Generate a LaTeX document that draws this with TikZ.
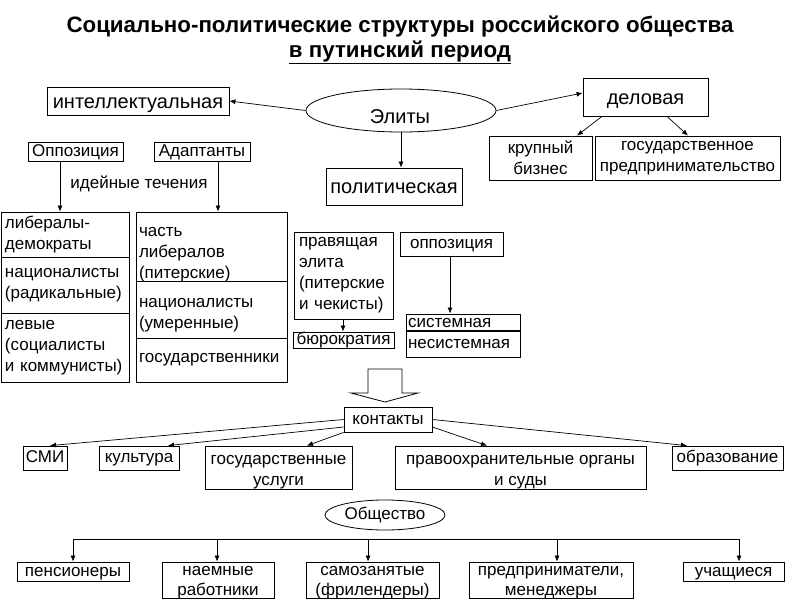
\documentclass[tikz,border=0pt]{standalone}
\usepackage{fontspec}
\setmainfont{Liberation Sans}
\usetikzlibrary{arrows.meta,shapes.geometric,calc}
\begin{document}
\begin{tikzpicture}[x=1pt,y=-1pt,
 box/.style={draw,line width=0.8pt,inner sep=0pt,font=\fontsize{17}{21}\selectfont,align=center},
 big/.style={box,font=\fontsize{20}{24}\selectfont,text height=16.5pt,text depth=2pt},
 lbox/.style={box,align=left},
 sbox/.style={box,text height=12.5pt,text depth=3.5pt},
 txt/.style={inner sep=0pt,font=\fontsize{17}{21}\selectfont,align=center},
 ell/.style={draw,ellipse,line width=0.8pt,inner sep=0pt},
 arr/.style={line width=0.7pt,-{Latex[length=6pt,width=5pt]}},
 ln/.style={line width=0.7pt},
 ttl/.style={font=\fontsize{22.3}{26}\selectfont\bfseries,anchor=base,inner sep=0pt}]
\useasboundingbox (0,0) rectangle (800,600);
% title
\node[ttl] (t1) at (400,32) {Социально-политические структуры российского общества};
\node[ttl] (t2) at (400,57) {\underline{в путинский период}};
% elites
\node[big,minimum width=182pt,minimum height=28pt] (intel) at (138,101) {интеллектуальная};
\node[ell,minimum width=190pt,minimum height=43pt] (elity) at (401,110.5) {};
\node[txt,font=\fontsize{20}{24}\selectfont] (elityT) at (400,117) {Элиты};
\node[big,minimum width=125pt,minimum height=38pt] (delov) at (645.5,97) {деловая};
\node[big,minimum width=136pt,minimum height=37pt] (polit) at (394,186.5) {политическая};
\node[box,minimum width=103pt,minimum height=44pt] (krup) at (540.5,158) {крупный\\бизнес};
\node[box,minimum width=185pt,minimum height=44pt] (gospr) at (687.5,158) {государственное\\предпринимательство};
\draw[arr] (elity.west) -- (intel.east);
\draw[arr] (elity.east) -- ($(delov.west)+(0,-4)$);
\draw[arr] (elity.south) -- (elity.south |- polit.north);
\draw[arr] (delov.south -| 602,0) -- (krup.north -| 577,0);
\draw[arr] (delov.south -| 667,0) -- (gospr.north -| 688,0);
% ideological currents
\node[sbox,minimum width=95pt,minimum height=19pt] (opp) at (75.5,151.5) {Оппозиция};
\node[sbox,minimum width=96pt,minimum height=19pt] (adap) at (202,151.5) {Адаптанты};
\node[txt] (ideas) at (139,184) {идейные течения};
% left column
\node[lbox,text width=120pt,inner xsep=4pt,minimum height=45pt] (lib) at (65,234.5) {либералы-\\демократы};
\node[lbox,text width=120pt,inner xsep=4pt,minimum height=56pt] (nat) at (65,285) {националисты\\(радикальные)};
\node[lbox,text width=120pt,inner xsep=4pt,minimum height=69pt] (lev) at (65,347.5) {левые\\(социалисты\\и коммунисты)};
% middle column
\node[box,minimum width=151pt,minimum height=69pt] (chast) at (211.5,246.5) {};
\node[txt,align=left,text width=145pt] (chastT) at (211.5,254.5) {часть\\либералов\\(питерские)};
\node[box,minimum width=151pt,minimum height=57pt] (natum) at (211.5,309.5) {};
\node[txt,align=left,text width=145pt] (natumT) at (211.5,315.5) {националисты\\(умеренные)};
\node[lbox,text width=145pt,inner xsep=3pt,minimum height=44pt] (gosud) at (211.5,360) {государственники};
\draw[arr] (opp.south -| 60,0) -- (lib.north -| 60,0);
\draw[arr] (adap.south -| 218,0) -- (chast.north -| 218,0);
% political
\node[lbox,text width=89pt,inner xsep=5pt,minimum height=87pt] (prav) at (343.5,275.5) {правящая\\элита\\(питерские\\и чекисты)};
\node[sbox,minimum width=101pt,minimum height=16pt] (byur) at (343.5,340) {бюрократия};
\node[sbox,minimum width=103pt,minimum height=24pt] (opp2) at (451.5,244) {оппозиция};
\node[lbox,text width=110pt,inner xsep=2pt,text height=12.5pt,text depth=3.5pt,minimum height=17pt] (sist) at (463,322.5) {системная};
\node[lbox,text width=110pt,inner xsep=2pt,text height=12.5pt,text depth=3.5pt,minimum height=26pt] (nesist) at (463,344) {несистемная};
\draw[line width=2pt] (sist.south west) -- (sist.south east);
\draw[arr] (prav.south -| 343,0) -- (byur.north -| 343,0);
\draw[arr] (opp2.south -| 450,0) -- (sist.north -| 450,0);
% hollow arrow
\draw[line width=0.8pt,fill=white] (368,369) -- (402,369) -- (402,393) -- (418,393) -- (385,402) -- (351,393) -- (368,393) -- cycle;
% contacts
\node[sbox,minimum width=88pt,minimum height=25pt] (kont) at (388,419.5) {контакты};
\node[sbox,minimum width=44pt,minimum height=24pt] (smi) at (45,458) {СМИ};
\node[sbox,minimum width=80pt,minimum height=24pt] (kult) at (139,458) {культура};
\node[box,minimum width=147pt,minimum height=43pt] (gosu) at (278.5,467.5) {};
\node[txt] (gosuT) at (278.5,472.5) {государственные\\услуги};
\node[box,minimum width=251pt,minimum height=43pt] (pravo) at (520.5,467.5) {};
\node[txt] (pravoT) at (520.5,472.5) {правоохранительные органы\\и суды};
\node[sbox,minimum width=111pt,minimum height=24pt] (obr) at (727.5,458) {образование};
\draw[arr] (kont.west) -- (smi.north -| 50,0);
\draw[arr] (kont.west |- 0,427) -- (kult.north -| 168,0);
\draw[arr] (kont.south west) -- (gosu.north -| 307,0);
\draw[arr] (kont.east |- 0,427) -- (pravo.north -| 487,0);
\draw[arr] (kont.east) -- (obr.north -| 687,0);
% society
\node[ell,minimum width=120pt,minimum height=30pt,font=\fontsize{17}{21}\selectfont] (obsh) at (385,515) {Общество};
\node[sbox,minimum width=112pt,minimum height=19pt] (pens) at (73,571.5) {пенсионеры};
\node[box,minimum width=112pt,minimum height=36pt] (naem) at (218,580) {};
\node[txt,font=\fontsize{17}{20}\selectfont] (naemT) at (218,583) {наемные\\работники};
\node[box,minimum width=133pt,minimum height=36pt] (samoz) at (372.5,580) {};
\node[txt,font=\fontsize{17}{20}\selectfont] (samozT) at (372.5,583) {самозанятые\\(фрилендеры)};
\node[box,minimum width=164pt,minimum height=36pt] (predp) at (551,580) {};
\node[txt,font=\fontsize{17}{20}\selectfont] (predpT) at (551,583) {предприниматели,\\менеджеры};
\node[sbox,minimum width=101pt,minimum height=19pt] (uch) at (733.5,571.5) {учащиеся};
\coordinate (hl) at (73,539);
\coordinate (hr) at (739,539);
\draw[ln] (hl) -- (hr);
\draw[arr] (hl) -- (pens.north -| hl);
\draw[arr] (hl -| 217,0) -- (naem.north -| 217,0);
\draw[arr] (hl -| 368,0) -- (samoz.north -| 368,0);
\draw[arr] (hl -| 557,0) -- (predp.north -| 557,0);
\draw[arr] (hr) -- (uch.north -| hr);
\end{tikzpicture}
\end{document}
